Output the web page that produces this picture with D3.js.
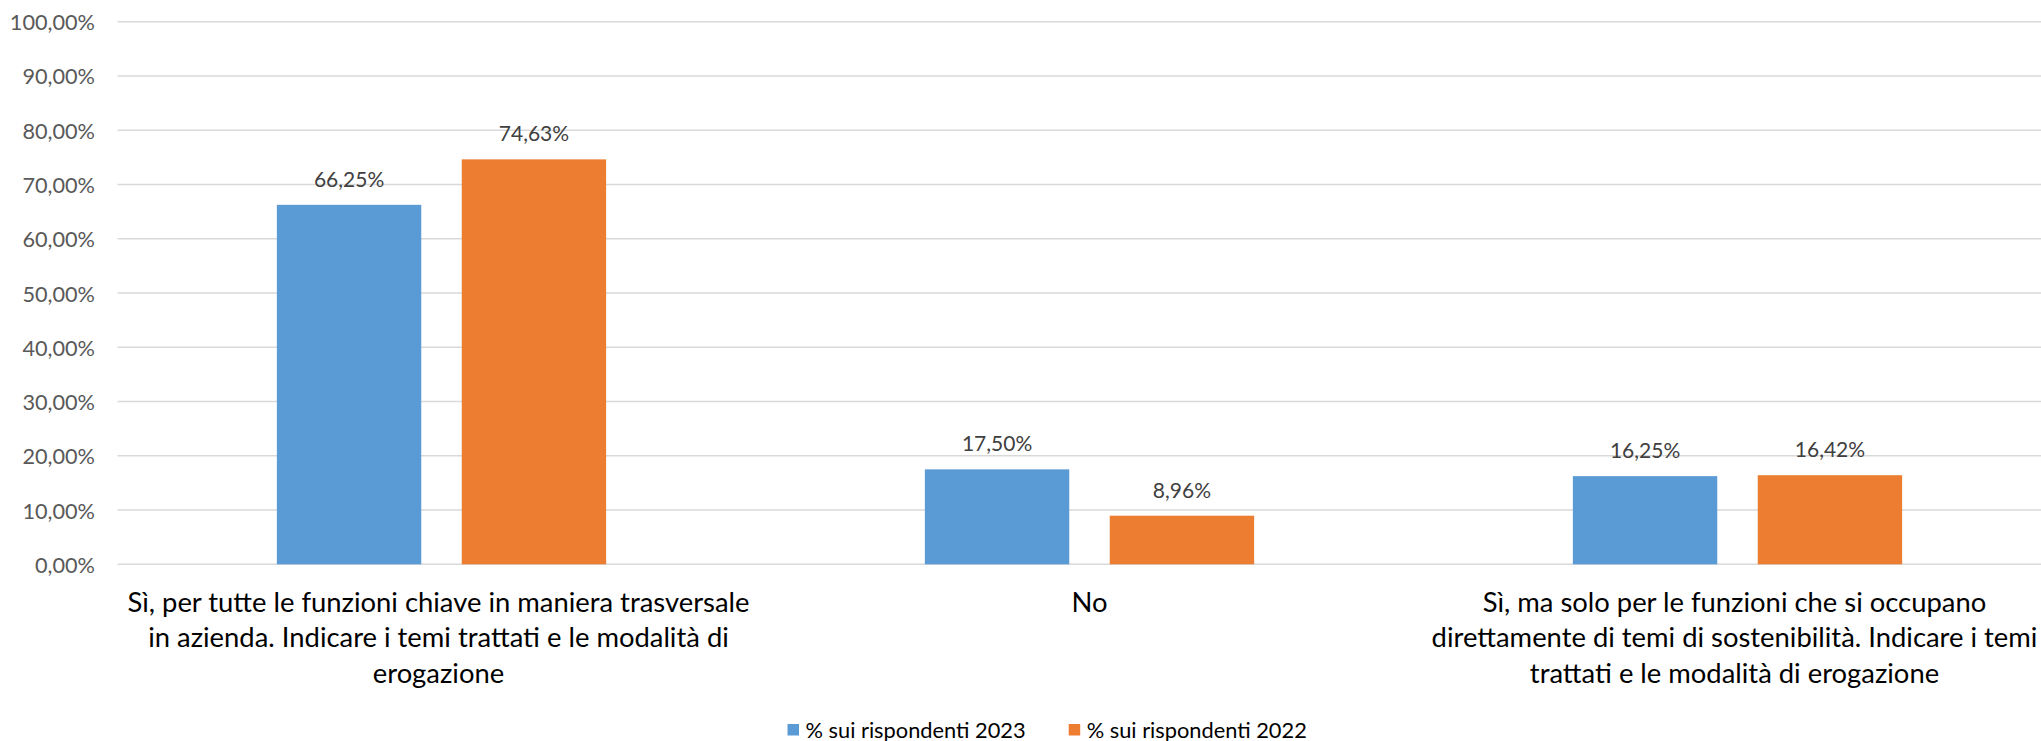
<!DOCTYPE html>
<html>
<head>
<meta charset="utf-8">
<script src="https://cdn.jsdelivr.net/npm/d3@7"></script>
<style>
  html, body { margin: 0; padding: 0; background: #ffffff; overflow: hidden; }
  svg { display: block; }
  text { font-family: Lato, "Open Sans", sans-serif; }
</style>
</head>
<body>
<div id="chart"></div>
<script>
// ---- data ----
const categories = [
  "Sì, per tutte le funzioni chiave in maniera trasversale\nin azienda. Indicare i temi trattati e le modalità di\nerogazione",
  "No",
  "Sì, ma solo per le funzioni che si occupano\ndirettamente di temi di sostenibilità. Indicare i temi\ntrattati e le modalità di erogazione"
];
const seriesNames = ["% sui rispondenti 2023", "% sui rispondenti 2022"];
const values2023 = [0.6625, 0.1750, 0.1625];
const values2022 = [0.7463, 0.0896, 0.1642];
const yTicks = [0, 0.1, 0.2, 0.3, 0.4, 0.5, 0.6, 0.7, 0.8, 0.9, 1.0];
const seriesColors = ["#5B9BD5", "#ED7D31"];

// ---- layout ----
const W = 2041, H = 741;
const plotLeft = 117.5, bandW = 648;
const yBottom = 564.3, yTop = 21.7;

const locale = d3.formatLocale({ decimal: ",", thousands: ".", grouping: [3], currency: ["", "€"] });
const pct = locale.format(".2%");

const seriesValues = [values2023, values2022];
const rows = categories.map((c, i) => ({
  cat: c,
  vals: seriesNames.map((s, j) => ({ series: s, value: seriesValues[j][i], color: seriesColors[j] }))
}));

const svg = d3.select("#chart").append("svg").attr("width", W).attr("height", H);
svg.append("rect").attr("width", W).attr("height", H).attr("fill", "#fff");

const x0 = d3.scaleBand().domain(categories).range([plotLeft, plotLeft + bandW * categories.length]).padding(0);
const x1 = d3.scaleBand().domain(seriesNames).range([0, x0.bandwidth()]).paddingInner(0.219).paddingOuter(0.862);
const y = d3.scaleLinear().domain([0, 1]).range([yBottom, yTop]);

// gridlines
svg.append("g").selectAll("line").data(yTicks).join("line")
  .attr("x1", plotLeft).attr("x2", x0.range()[1])
  .attr("y1", d => y(d)).attr("y2", d => y(d))
  .attr("stroke", "#d9d9d9").attr("stroke-width", 1.6);

// y axis labels
const yAxis = d3.axisLeft(y).tickValues(yTicks).tickFormat(pct).tickSize(0).tickPadding(0);
const gy = svg.append("g").attr("transform", `translate(${95},0)`).call(yAxis);
gy.select(".domain").remove();
gy.selectAll("text").attr("fill", "#595959").style("font-size", "21.7px")
  .style("font-family", "Lato, sans-serif").attr("dy", "0.37em");

// bars
const groups = svg.append("g").selectAll("g").data(rows).join("g")
  .attr("transform", d => `translate(${x0(d.cat)},0)`);
groups.selectAll("rect").data(d => d.vals).join("rect")
  .attr("x", d => x1(d.series)).attr("width", x1.bandwidth())
  .attr("y", d => y(d.value)).attr("height", d => y(0) - y(d.value))
  .attr("fill", d => d.color);
groups.selectAll("text.lbl").data(d => d.vals).join("text").attr("class", "lbl")
  .attr("x", d => x1(d.series) + x1.bandwidth() / 2)
  .attr("y", d => y(d.value) - 18)
  .attr("text-anchor", "middle").attr("fill", "#404040").style("font-size", "21px")
  .text(d => pct(d.value));

// category labels
const gx = svg.append("g");
categories.forEach(c => {
  const cx = x0(c) + x0.bandwidth() / 2 - (c.includes("\n") ? 3 : 0);
  const t = gx.append("text").attr("text-anchor", "middle").attr("fill", "#000")
    .style("font-size", "27.4px")
    .attr("x", cx).attr("y", 612);
  c.split("\n").forEach((line, i) => {
    t.append("tspan").attr("x", cx).attr("dy", i === 0 ? 0 : 35.3).text(line);
  });
});

// legend
const legendX = [787.5, 1068.7];
const lg = svg.append("g").selectAll("g").data(seriesNames).join("g")
  .attr("transform", (d, i) => `translate(${legendX[i]},0)`);
lg.append("rect").attr("x", 0).attr("y", 724).attr("width", 11.5).attr("height", 11.5)
  .attr("fill", (d, i) => seriesColors[i]);
lg.append("text").attr("x", 18).attr("y", 737.5).attr("fill", "#000")
  .style("font-size", "21.8px").text(d => d);
</script>
</body>
</html>
